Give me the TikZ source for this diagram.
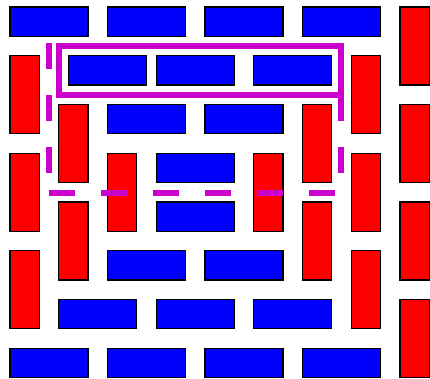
\documentclass[tikz,border=0pt]{standalone}
\usepackage{tikz}
\definecolor{mag}{RGB}{204,0,204}
\tikzset{
  blk/.style={draw=black, line width=1.3pt, inner sep=0pt, outer sep=0pt, anchor=north west},
  hblk/.style={blk, fill=blue, minimum width=78pt, minimum height=29.25pt},
  vblk/.style={blk, fill=red, minimum width=29.25pt, minimum height=78pt},
  frameline/.style={draw=mag, line width=6pt},
  dashline/.style={draw=mag, line width=6pt, dash pattern=on 26pt off 26pt}
}
\begin{document}
\begin{tikzpicture}[x=1pt, y=-1pt]
\useasboundingbox (0,0) rectangle (430,378);
% blue horizontal blocks
\foreach \i/\j [count=\n] in {0/0,2/0,4/0,6/0, 1.2/1,3/1,5/1, 2/2,4/2, 3/3, 3/4, 2/5,4/5, 1/6,3/6,5/6, 0/7,2/7,4/7,6/7}
  \node[hblk] (h\n) at ({10+48.75*\i},{7+48.75*\j}) {};
% red vertical blocks
\foreach \i/\j [count=\n] in {8/0, 0/1,7/1, 1/2,6/2,8/2, 0/3,2/3,5/3,7/3, 1/4,6/4,8/4, 0/5,7/5, 8/6}
  \node[vblk] (v\n) at ({10+48.75*\i},{7+48.75*\j}) {};
% magenta frame
\coordinate (ftl) at (59,45.5);
\coordinate (fbr) at (341,94.7);
\draw[frameline] (ftl) rectangle (fbr);
% dashed outline
\coordinate (dtl) at (48.7,42.5);
\coordinate (dbl) at (48.7,192.5);
\coordinate (dbl2) at (49,192.5);
\coordinate (dbr) at (341,192.5);
\coordinate (dtr) at (341,42.5);
\draw[dashline] (dtl) -- (dbl);
\draw[dashline] (dbl2) -- (dbr);
\draw[dashline] (dtr) -- (dbr);
\end{tikzpicture}
\end{document}
